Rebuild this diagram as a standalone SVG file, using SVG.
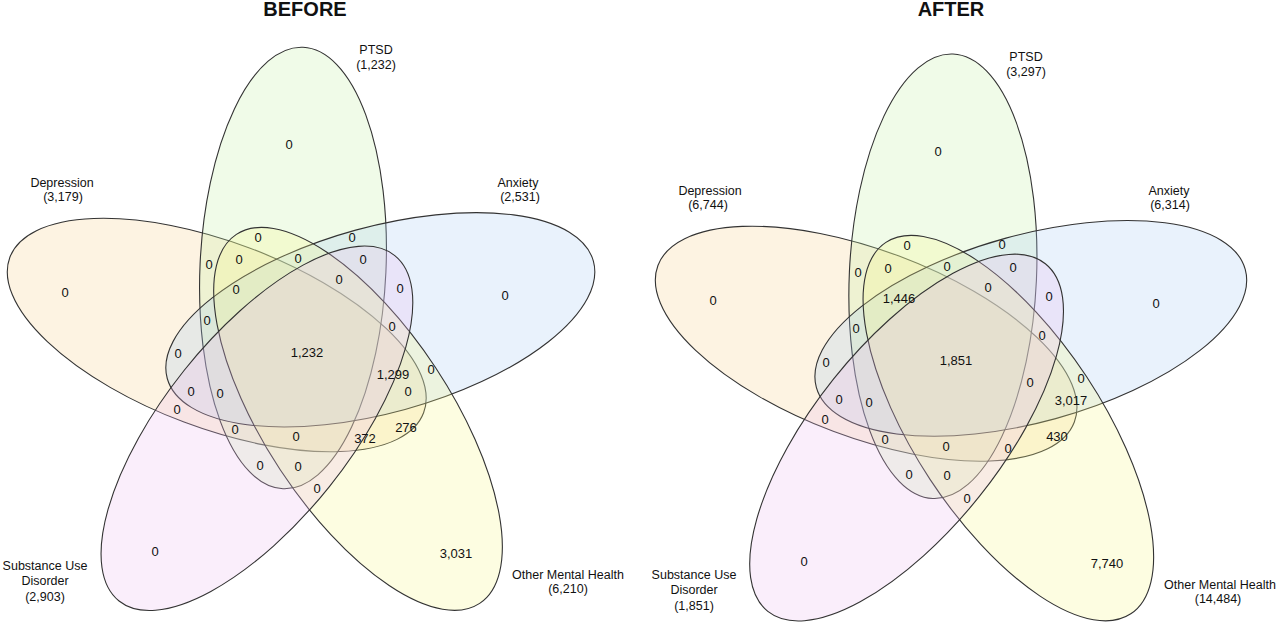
<svg xmlns="http://www.w3.org/2000/svg" width="1280" height="624" viewBox="0 0 1280 624">
<style>
  .bg { fill: #ffffff; }
  .ell { stroke: #333333; stroke-width: 1.1; fill-opacity: 0.25; }
  .dep { fill: #f7cf8b; }
  .ptsd { fill: #c3efa3; }
  .anx { fill: #a7cbf3; }
  .omh { fill: #f7f787; }
  .sud { fill: #ebbbef; }
  text { font-family: "Liberation Sans", Arial, sans-serif; fill: #111111; text-anchor: middle; }
  .title { font-size: 20px; font-weight: bold; }
  .lbl { font-size: 12.5px; }
  .num { font-size: 13px; }
</style>
<defs>
  <ellipse id="base" cx="293" cy="268" rx="93" ry="221" transform="rotate(2.6 293 268)"/>
</defs>
<rect class="bg" x="0" y="0" width="1280" height="624"/>

<!-- BEFORE -->
<g id="before">
  <text class="title" x="305" y="16">BEFORE</text>
  <g id="before-depression">
    <use href="#base" class="ell dep" transform="rotate(288 301 354)"/>
    <text class="lbl" x="62" y="187">Depression</text>
    <text class="lbl" x="63" y="201">(3,179)</text>
  </g>
  <g id="before-ptsd">
    <use href="#base" class="ell ptsd"/>
    <text class="lbl" x="376" y="54">PTSD</text>
    <text class="lbl" x="376" y="69">(1,232)</text>
  </g>
  <g id="before-anxiety">
    <use href="#base" class="ell anx" transform="rotate(72 301 354)"/>
    <text class="lbl" x="518" y="187">Anxiety</text>
    <text class="lbl" x="520" y="201">(2,531)</text>
  </g>
  <g id="before-other">
    <use href="#base" class="ell omh" transform="rotate(144 301 354)"/>
    <text class="lbl" x="568" y="579">Other Mental Health</text>
    <text class="lbl" x="568" y="593">(6,210)</text>
  </g>
  <g id="before-sud">
    <use href="#base" class="ell sud" transform="rotate(216 301 354)"/>
    <text class="lbl" x="45" y="570">Substance Use</text>
    <text class="lbl" x="45" y="585">Disorder</text>
    <text class="lbl" x="45" y="601">(2,903)</text>
  </g>
  <g id="before-counts" class="num">
    <text class="num" x="289" y="149">0</text>
    <text class="num" x="65" y="297">0</text>
    <text class="num" x="505" y="300">0</text>
    <text class="num" x="155" y="556">0</text>
    <text class="num" x="456" y="558">3,031</text>
    <text class="num" x="258" y="242">0</text>
    <text class="num" x="352" y="242">0</text>
    <text class="num" x="209" y="269">0</text>
    <text class="num" x="239" y="264">0</text>
    <text class="num" x="298" y="263">0</text>
    <text class="num" x="363" y="264">0</text>
    <text class="num" x="339" y="284">0</text>
    <text class="num" x="236" y="294">0</text>
    <text class="num" x="400" y="293">0</text>
    <text class="num" x="207" y="325">0</text>
    <text class="num" x="392" y="331">0</text>
    <text class="num" x="178" y="358">0</text>
    <text class="num" x="307" y="357">1,232</text>
    <text class="num" x="393" y="379">1,299</text>
    <text class="num" x="431" y="374">0</text>
    <text class="num" x="191" y="396">0</text>
    <text class="num" x="220" y="398">0</text>
    <text class="num" x="408" y="396">0</text>
    <text class="num" x="177" y="414">0</text>
    <text class="num" x="235" y="434">0</text>
    <text class="num" x="296" y="441">0</text>
    <text class="num" x="365" y="443">372</text>
    <text class="num" x="406" y="432">276</text>
    <text class="num" x="260" y="470">0</text>
    <text class="num" x="298" y="471">0</text>
    <text class="num" x="317" y="493">0</text>
  </g>
</g>

<!-- AFTER -->
<g id="after">
  <text class="title" x="951" y="16">AFTER</text>
  <g id="after-depression">
    <use href="#base" class="ell dep" transform="translate(648 6.5) scale(1.0065) rotate(288 301 354)"/>
    <text class="lbl" x="710" y="195">Depression</text>
    <text class="lbl" x="708" y="209">(6,744)</text>
  </g>
  <g id="after-ptsd">
    <use href="#base" class="ell ptsd" transform="translate(648 6.5) scale(1.0065)"/>
    <text class="lbl" x="1026" y="61">PTSD</text>
    <text class="lbl" x="1026" y="76">(3,297)</text>
  </g>
  <g id="after-anxiety">
    <use href="#base" class="ell anx" transform="translate(648 6.5) scale(1.0065) rotate(72 301 354)"/>
    <text class="lbl" x="1169" y="195">Anxiety</text>
    <text class="lbl" x="1170" y="209">(6,314)</text>
  </g>
  <g id="after-other">
    <use href="#base" class="ell omh" transform="translate(648 6.5) scale(1.0065) rotate(144 301 354)"/>
    <text class="lbl" x="1220" y="589">Other Mental Health</text>
    <text class="lbl" x="1218" y="603">(14,484)</text>
  </g>
  <g id="after-sud">
    <use href="#base" class="ell sud" transform="translate(648 6.5) scale(1.0065) rotate(216 301 354)"/>
    <text class="lbl" x="694" y="579">Substance Use</text>
    <text class="lbl" x="694" y="594">Disorder</text>
    <text class="lbl" x="694" y="610">(1,851)</text>
  </g>
  <g id="after-counts">
    <text class="num" x="938" y="156">0</text>
    <text class="num" x="713" y="305">0</text>
    <text class="num" x="1156" y="308">0</text>
    <text class="num" x="804" y="566">0</text>
    <text class="num" x="1107" y="568">7,740</text>
    <text class="num" x="907" y="250">0</text>
    <text class="num" x="1002" y="249">0</text>
    <text class="num" x="858" y="277">0</text>
    <text class="num" x="888" y="273">0</text>
    <text class="num" x="947" y="271">0</text>
    <text class="num" x="1013" y="272">0</text>
    <text class="num" x="988" y="292">0</text>
    <text class="num" x="899" y="303">1,446</text>
    <text class="num" x="1049" y="301">0</text>
    <text class="num" x="856" y="333">0</text>
    <text class="num" x="1042" y="340">0</text>
    <text class="num" x="826" y="367">0</text>
    <text class="num" x="956" y="365">1,851</text>
    <text class="num" x="1030" y="387">0</text>
    <text class="num" x="1081" y="383">0</text>
    <text class="num" x="839" y="404">0</text>
    <text class="num" x="869" y="407">0</text>
    <text class="num" x="1071" y="405">3,017</text>
    <text class="num" x="825" y="424">0</text>
    <text class="num" x="885" y="444">0</text>
    <text class="num" x="946" y="451">0</text>
    <text class="num" x="1008" y="453">0</text>
    <text class="num" x="1057" y="441">430</text>
    <text class="num" x="909" y="479">0</text>
    <text class="num" x="947" y="480">0</text>
    <text class="num" x="967" y="503">0</text>
  </g>
</g>
</svg>
